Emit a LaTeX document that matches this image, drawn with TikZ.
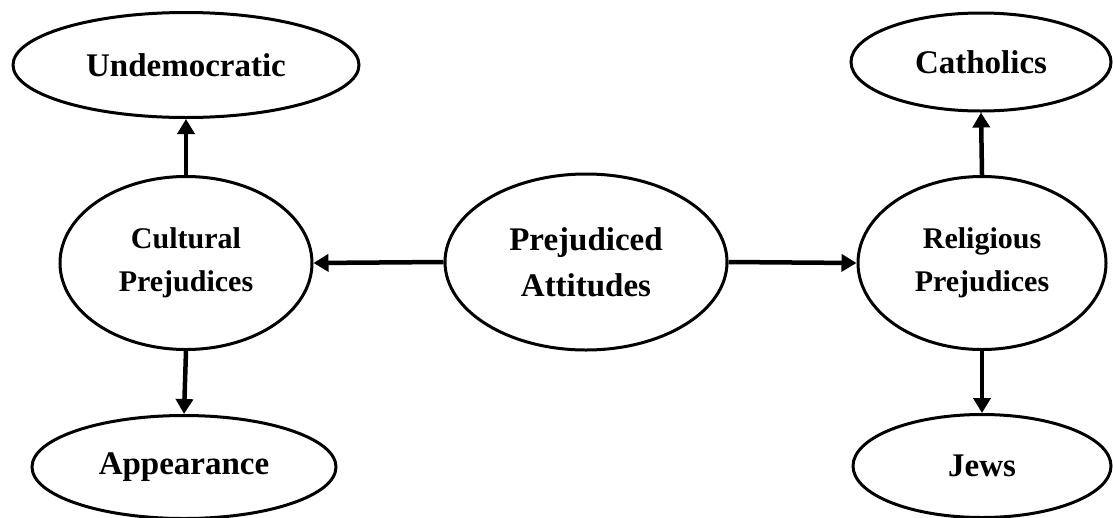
\documentclass[tikz,border=0pt]{standalone}
\usepackage{fontspec}
\setmainfont{Liberation Serif}
\usetikzlibrary{shapes.geometric,arrows.meta}
\begin{document}
\begin{tikzpicture}[x=1pt,y=-1pt,
  oval/.style={draw=black,ellipse,line width=3pt,inner sep=0pt,align=center,font=\bfseries\fontsize{33}{46}\selectfont},
  sideoval/.style={oval,font=\bfseries\fontsize{30}{43}\selectfont},
  conn/.style={line width=4.5pt,-{Triangle[width=17pt,length=15pt]}}]
\useasboundingbox (0,0) rectangle (1113,517);
\node[oval,minimum width=346pt,minimum height=105pt] (undem) at (186,65) {Undemocratic};
\node[sideoval,minimum width=252pt,minimum height=173pt] (cult) at (186,263) {Cultural\\Prejudices};
\node[oval,minimum width=304pt,minimum height=103pt] (appear) at (184,467) {Appearance};
\node[oval,minimum width=282pt,minimum height=176pt] (prej) at (586,262) {Prejudiced\\Attitudes};
\node[oval,minimum width=260pt,minimum height=98pt] (cath) at (981,62) {Catholics};
\node[sideoval,minimum width=248pt,minimum height=173pt] (relig) at (982,263) {Religious\\Prejudices};
\node[oval,minimum width=258pt,minimum height=103pt] (jews) at (982,466) {Jews};
\draw[conn] (cult.north) -- (undem.south);
\draw[conn] (cult.south) -- (appear.north);
\draw[conn] (prej.west) -- (cult.east);
\draw[conn] (prej.east) -- (relig.west);
\draw[conn] (relig.north) -- (cath.south);
\draw[conn] (relig.south) -- (jews.north);
\end{tikzpicture}
\end{document}
